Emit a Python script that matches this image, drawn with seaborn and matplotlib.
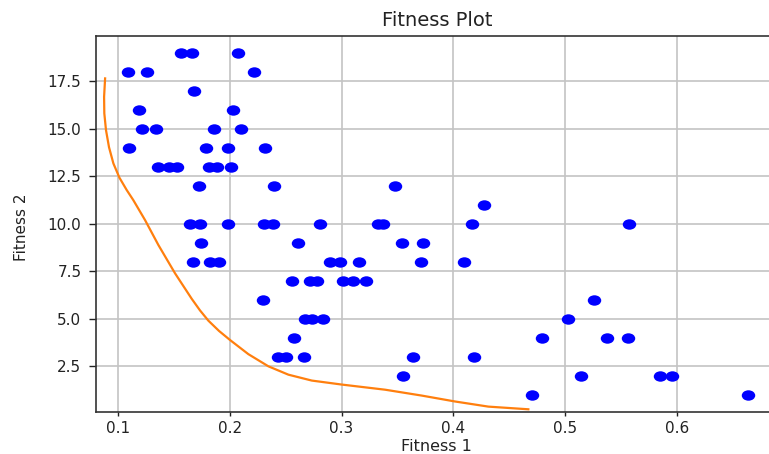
import numpy as np
import pandas as pd
import matplotlib
matplotlib.use("Agg")
import matplotlib.pyplot as plt
from matplotlib.path import Path
from matplotlib.transforms import Affine2D
import seaborn as sns

# ---- data ----
fitness1 = [
    0.1563, 0.1661, 0.2072,
    0.1089, 0.1259, 0.2218,
    0.1679,
    0.1188, 0.2033,
    0.1220, 0.1340, 0.1863, 0.2099,
    0.1098, 0.1789, 0.1986, 0.2316,
    0.1357, 0.1458, 0.1533, 0.1819, 0.1885, 0.2013,
    0.1727, 0.2394, 0.3478,
    0.4276,
    0.1646, 0.1735, 0.1988, 0.2307, 0.2385, 0.2808, 0.3329, 0.3374, 0.4169, 0.5572,
    0.1742, 0.2614, 0.3538, 0.3726,
    0.1670, 0.1825, 0.1908, 0.2897, 0.2987, 0.3159, 0.3711, 0.4092,
    0.2560, 0.2719, 0.2778, 0.3011, 0.3100, 0.3219,
    0.2302, 0.5259,
    0.2674, 0.2734, 0.2838, 0.5027,
    0.2578, 0.4794, 0.5373, 0.5558,
    0.2435, 0.2504, 0.2668, 0.3636, 0.4187,
    0.3552, 0.5140, 0.5846, 0.5951,
    0.4705, 0.6630,
]
fitness2 = [
    19, 19, 19,
    18, 18, 18,
    17,
    16, 16,
    15, 15, 15, 15,
    14, 14, 14, 14,
    13, 13, 13, 13, 13, 13,
    12, 12, 12,
    11,
    10, 10, 10, 10, 10, 10, 10, 10, 10, 10,
    9, 9, 9, 9,
    8, 8, 8, 8, 8, 8, 8, 8,
    7, 7, 7, 7, 7, 7,
    6, 6,
    5, 5, 5, 5,
    4, 4, 4, 4,
    3, 3, 3, 3, 3,
    2, 2, 2, 2,
    1, 1,
]

curve_x = [0.0887, 0.0878, 0.0880, 0.0895, 0.0922, 0.0961, 0.1015, 0.1080, 0.1139,
           0.1244, 0.1363, 0.1512, 0.1661, 0.1735, 0.1810, 0.1905, 0.2004, 0.2167,
           0.2346, 0.2525, 0.2734, 0.3002, 0.3389, 0.3717, 0.4014, 0.4312, 0.4669]
curve_y = [17.64, 16.67, 15.80, 14.92, 14.02, 13.17, 12.42, 11.77, 11.24,
           10.19, 8.88, 7.39, 6.05, 5.44, 4.90, 4.36, 3.88, 3.14,
           2.50, 2.06, 1.75, 1.54, 1.27, 0.96, 0.65, 0.38, 0.24]

x_ticks = [0.1, 0.2, 0.3, 0.4, 0.5, 0.6]
y_ticks = [2.5, 5.0, 7.5, 10.0, 12.5, 15.0, 17.5]

pts = pd.DataFrame({"Fitness 1": fitness1, "Fitness 2": fitness2})
front = pd.DataFrame({"x": curve_x, "y": curve_y})

W, H = 769, 454
fig = plt.figure(figsize=(W / 100, H / 100), dpi=100)
left = 95.7 / W
bottom = 1 - 411.7 / H
top = 1 - 36.0 / H
right_px = 778.0
ax = fig.add_axes([left, bottom, (right_px - 95.7) / W, top - bottom])

ellipse = Path.unit_circle().transformed(Affine2D().scale(1.29, 1.0))

ax.grid(True, color="#c4c4c4", linewidth=1.2, zorder=0)
ax.set_axisbelow(True)

sns.lineplot(data=front, x="x", y="y", sort=False, estimator=None,
             color="#ff7f0e", linewidth=1.6, ax=ax, zorder=2)
sns.scatterplot(data=pts, x="Fitness 1", y="Fitness 2", marker=ellipse,
                s=94, color="#0000ff", linewidth=0, ax=ax, zorder=3)

ax.set_xlim(0.0803, 0.690)
ax.set_ylim(0.113, 19.87)
ax.set_xticks(x_ticks)
ax.set_xticklabels([f"{v:.1f}" for v in x_ticks])
ax.set_yticks(y_ticks)
ax.set_yticklabels([f"{v:.1f}" for v in y_ticks])
ax.tick_params(axis="both", labelsize=11, width=1, colors="#222222",
               labelcolor="#222222")
ax.tick_params(axis="x", length=3, pad=4)
ax.tick_params(axis="y", length=5.3, pad=5)

for s in ax.spines.values():
    s.set_color("#333333")
    s.set_linewidth(1.2)

ax.set_title("Fitness Plot", fontsize=14, color="#222222", pad=7)
ax.set_xlabel("Fitness 1", fontsize=11.5, color="#222222")
ax.xaxis.set_label_coords(0.5, -0.073)
ax.set_ylabel("Fitness 2", fontsize=11, color="#222222")
ax.yaxis.set_label_coords(-0.098, 0.49)

fig.savefig("out.png", dpi=100)
